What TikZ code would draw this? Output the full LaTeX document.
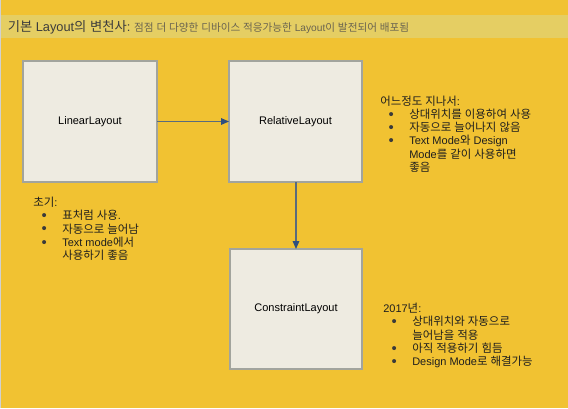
\documentclass[tikz,border=0pt]{standalone}
\usepackage{fontspec}
\setmainfont{Liberation Sans}
\newfontfamily\krfont[Scale=1.04]{Noto Sans CJK KR}
\usetikzlibrary{arrows.meta}
\XeTeXinterchartokenstate=1
\newXeTeXintercharclass\KRclass
\count255="AC00
\loop
  \XeTeXcharclass\count255=\KRclass
  \ifnum\count255<"D7A3 \advance\count255 by 1
\repeat
\XeTeXinterchartoks 0 \KRclass = {\krfont}
\XeTeXinterchartoks 4095 \KRclass = {\krfont}
\XeTeXinterchartoks \KRclass 0 = {\rmfamily}
\XeTeXinterchartoks \KRclass 4095 = {\rmfamily}
\definecolor{bgc}{HTML}{F1C232}
\definecolor{bandc}{HTML}{E5CE63}
\definecolor{boxc}{HTML}{EEEBE1}
\definecolor{bordc}{HTML}{A2A49D}
\definecolor{linec}{HTML}{596B7D}
\definecolor{tipc}{HTML}{2F4F7F}
\definecolor{titlec}{HTML}{3C3C3C}
\definecolor{subc}{HTML}{6A6450}
\definecolor{txtc}{HTML}{1E1E1E}
\definecolor{bulc}{HTML}{3A3A3A}
\newcommand{\blt}{\makebox[21.75pt][l]{\hspace*{6.25pt}\raisebox{-0.07em}{\scalebox{1.35}{\color{bulc}\textbullet}}}}
\newcommand{\lind}{\hspace*{21.75pt}}
\begin{document}
\begin{tikzpicture}[x=0.75pt,y=-0.75pt,
  lbox/.style={draw=bordc,line width=1.1pt,fill=boxc,inner sep=0pt,outer sep=0pt,
    font=\fontsize{8.25}{9.75}\selectfont,text=black},
  lst/.style={align=left,inner sep=0pt,anchor=north west,text=txtc,
    font=\fontsize{8.25}{9.9}\selectfont},
  arr/.style={draw=linec,line width=0.8pt,-{Triangle[length=6pt,width=5pt,fill=tipc,color=tipc]}}]
\useasboundingbox (0,0) rectangle (568,408);
\fill[bgc] (0,0) rectangle (568,408);
\fill[black!18] (0,0) rectangle (1.5,408);
\fill[bandc] (1.5,15) rectangle (568,38);
\node[anchor=base west,inner sep=0pt,text=titlec,font=\fontsize{9.6}{12}\selectfont] (t1) at (7.5,31.5) {기본 Layout의 변천사:};
\node[anchor=base west,inner sep=0pt,text=subc,font=\fontsize{7.65}{10}\selectfont] (t2) at ([xshift=2.5pt]t1.base east) {점점 더 다양한 디바이스 적응가능한 Layout이 발전되어 배포됨};
\node[lbox,minimum width=100.5pt,minimum height=90.75pt] (b1) at (90,121.5) {\raisebox{-1.5pt}{LinearLayout}};
\node[lbox,minimum width=99.75pt,minimum height=90.75pt] (b2) at (295.5,121.5) {\raisebox{-1.5pt}{RelativeLayout}};
\node[lbox,minimum width=99pt,minimum height=90pt] (b3) at (296,309) {\raisebox{-1.5pt}{ConstraintLayout}};
\draw[arr] (b1.east) -- (b2.west);
\draw[arr] (b2.south -| b3.north) -- (b3.north);
\node[lst] (l1) at (33,197) {초기:\\ \blt 표처럼 사용.\\ \blt 자동으로 늘어남\\ \blt Text mode에서\\ \lind 사용하기 좋음};
\node[lst] (l2) at (380,95.5) {어느정도 지나서:\\ \blt 상대위치를 이용하여 사용\\ \blt 자동으로 늘어나지 않음\\ \blt Text Mode와 Design\\ \lind Mode를 같이 사용하면\\ \lind 좋음};
\node[lst] (l3) at (383,303) {2017년:\\ \blt 상대위치와 자동으로\\ \lind 늘어남을 적용\\ \blt 아직 적용하기 힘듬\\ \blt Design Mode로 해결가능};
\end{tikzpicture}
\end{document}
